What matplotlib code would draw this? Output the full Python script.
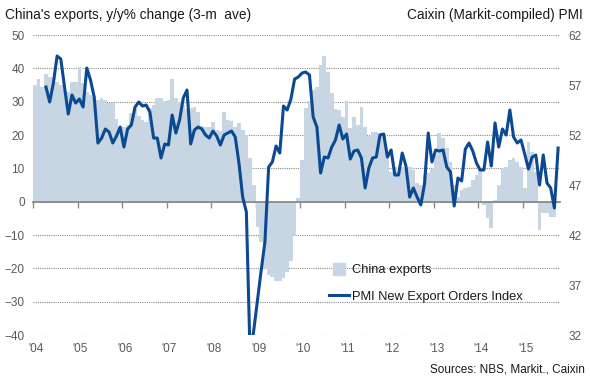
import matplotlib
matplotlib.use('Agg')
import matplotlib.pyplot as plt
import numpy as np
from matplotlib.lines import Line2D

plt.rcParams['font.family'] = ['Liberation Sans', 'DejaVu Sans']

# China exports, y/y % change, 3-month average (monthly, Jan 2004 -> Sep 2015)
exports_2004 = [35, 36.7, 34.3, 38.4, 37.5, 37, 36, 35, 33.5, 33, 35.9, 35.9]
exports_2005 = [40.3, 35.5, 33, 32, 31.5, 30.5, 31, 30.5, 29.7, 29.7, 24.7, 22.5]
exports_2006 = [22.5, 23, 26.5, 28, 25.7, 24.5, 24, 28, 29, 31, 31, 30.3]
exports_2007 = [30.5, 36.7, 31, 30, 29, 27.8, 28, 28.3, 27, 22.7, 22.5, 22.3]
exports_2008 = [23.8, 21.5, 21.3, 27, 24.5, 24.3, 22.5, 23.5, 21.5, 20, 13, 5]
exports_2009 = [-7.5, -12, -20, -22, -22.5, -23.7, -23.7, -23, -21, -17.8, -10, 1]
exports_2010 = [12.5, 28, 30.3, 33.5, 34.5, 41, 43.7, 39, 32.7, 27.7, 27.5, 25.3]
exports_2011 = [30.3, 22, 25.3, 23, 28.3, 22.3, 19.7, 21, 21, 20.5, 20.3, 15]
exports_2012 = [9, 10.5, 9, 10.5, 10, 10.5, 9.5, 5.5, 5, 8, 8.5, 9.7]
exports_2013 = [14, 20.5, 19, 16, 12, 5, 1.5, 3.5, 4.2, 4.5, 6.5, 8]
exports_2014 = [9.5, -1, -5, -8, 0.5, 5, 10, 10.5, 12.5, 13, 12, 10.5]
exports_2015 = [4, 18, 15, 9, -8.5, -3.5, -3.5, -4.5, -4.5]

# PMI new export orders index (monthly, Apr 2004 -> Oct 2015)
pmi_2004 = [56.8, 55.3, 57.2, 59.9, 59.6, 56.8, 54.1, 56, 55.2]
pmi_2005 = [55.6, 54.8, 58.7, 57.5, 55.8, 51.2, 51.7, 52.6, 52.3, 51.2, 51.9, 52.8]
pmi_2006 = [50.8, 52.6, 53, 54.8, 55.3, 54.9, 55, 54.3, 51.7, 51.7, 49.7, 51.1]
pmi_2007 = [51, 54, 52.2, 53.5, 55.7, 56.5, 51.1, 52.5, 52.8, 52.6, 52, 51.7]
pmi_2008 = [52.4, 51.9, 51, 52, 52.2, 52.4, 51.8, 49.2, 45.8, 44.3, 30, 32.5]
pmi_2009 = [35.5, 38.5, 41.3, 48.8, 49.3, 50.9, 50.2, 54.9, 54.5, 55.6, 57.6, 57.8]
pmi_2010 = [58.2, 58.3, 58, 53.8, 52.8, 48.2, 49.8, 49.7, 50.8, 51.5, 53, 51.6]
pmi_2011 = [52.1, 49.6, 50.4, 50.5, 49.7, 46.7, 48.7, 49.7, 49.8, 52, 52.1, 49.8]
pmi_2012 = [50.5, 48, 48, 50.2, 48.9, 45.8, 46.7, 45.8, 45, 47.1, 52.2, 49.3]
pmi_2013 = [50.5, 50.4, 50.5, 48.8, 48.3, 44.9, 47.7, 47.4, 50.6, 51.2, 50.4, 49.2]
pmi_2014 = [48.5, 48.5, 51.3, 48.9, 53.2, 50.8, 52.6, 52, 54.5, 51.8, 51.2, 51.5]
pmi_2015 = [50.1, 48.6, 49.8, 50, 47, 50, 47.2, 46.7, 44.7, 50.7]

year_labels = ["'04", "'05", "'06", "'07", "'08", "'09", "'10", "'11", "'12", "'13", "'14", "'15"]

exports = np.array(exports_2004 + exports_2005 + exports_2006 + exports_2007 + exports_2008
                   + exports_2009 + exports_2010 + exports_2011 + exports_2012 + exports_2013
                   + exports_2014 + exports_2015)
pmi = np.array(pmi_2004 + pmi_2005 + pmi_2006 + pmi_2007 + pmi_2008 + pmi_2009 + pmi_2010
               + pmi_2011 + pmi_2012 + pmi_2013 + pmi_2014 + pmi_2015)

exp_months = np.arange(len(exports))
pmi_months = np.arange(len(pmi)) + 3  # PMI starts in April 2004

bar_col = '#c7d6e2'
line_col = '#0b4a92'
grey = '#595959'

fig = plt.figure(figsize=(5.9, 3.81), dpi=100)
ax = fig.add_axes([0.0559, 0.1207, 0.8932, 0.7874])
ax2 = ax.twinx()

ax.bar(exp_months, exports, width=1.0, align='edge', color=bar_col, linewidth=0, zorder=2)
ax.set_xlim(0, 142)
ax.set_ylim(-40, 50)
ax.set_yticks(range(-40, 51, 10))
ax.grid(axis='y', linestyle=(0, (1, 1)), color='#8a8a8a', linewidth=0.8)
ax.set_axisbelow(True)

for s in ['top', 'left', 'right']:
    ax.spines[s].set_visible(False)
    ax2.spines[s].set_visible(False)
ax2.spines['bottom'].set_visible(False)
ax.spines['bottom'].set_position(('data', 0))
ax.spines['bottom'].set_color('#8a8a8a')
ax.spines['bottom'].set_linewidth(1.3)
ax.spines['bottom'].set_zorder(3)

ax.set_xticks(np.arange(0, 142, 12))
ax.tick_params(axis='x', direction='out', length=4, width=1, color='#8a8a8a', labelbottom=False)
ax.tick_params(axis='y', length=0, pad=6, labelsize=8.5, labelcolor=grey)

sec = ax.secondary_xaxis(0.0)
sec.set_xticks(np.arange(0, 142, 12) + 0.8)
sec.set_xticklabels(year_labels)
sec.tick_params(length=0, pad=5.5, labelsize=8.5, labelcolor=grey)
sec.spines['bottom'].set_visible(False)

ax2.plot(pmi_months + 0.5, pmi, color=line_col, linewidth=2.2, zorder=4)
ax2.set_ylim(32, 62)
ax2.set_yticks(range(32, 63, 5))
ax2.tick_params(axis='y', length=0, pad=6, labelsize=8.5, labelcolor=grey)

fig.text(0.008, 0.961, "China's exports, y/y% change (3-m  ave)", fontsize=9.8, color='#1a1a1a', va='center')
fig.text(0.987, 0.961, 'Caixin (Markit-compiled) PMI', fontsize=9.8, color='#1a1a1a', va='center', ha='right')
fig.text(0.992, 0.029, 'Sources: NBS, Markit., Caixin', fontsize=8.5, color='#1a1a1a', va='center', ha='right')

handles = [Line2D([], [], linestyle='none', marker='s', markersize=9, color=bar_col),
           Line2D([], [], color=line_col, linewidth=2.2)]
fig.legend(handles, ['China exports', 'PMI New Export Orders Index'], loc='upper left',
           bbox_to_anchor=(329 / 590, 1 - 264 / 381), frameon=False, fontsize=9.3,
           handlelength=1.55, handletextpad=0.25, labelspacing=1.15, borderpad=0,
           borderaxespad=0, labelcolor='#1a1a1a')

fig.savefig('out.png', dpi=100)
